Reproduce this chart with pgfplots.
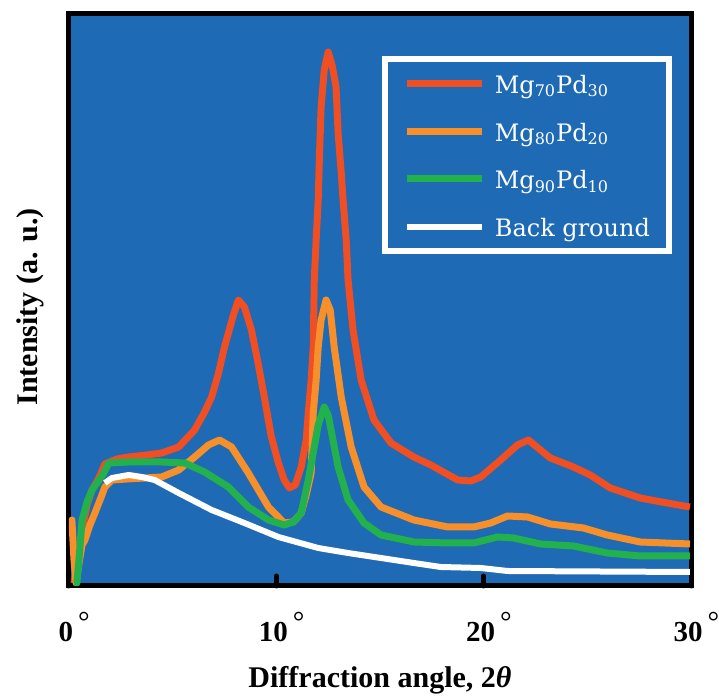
\documentclass[border=0pt]{standalone}
\usepackage{fontspec}
\setmainfont{Liberation Serif}
\newfontfamily\legfont{DejaVu Serif}
\usepackage{pgfplots}
\pgfplotsset{compat=1.18}
\definecolor{bgblue}{RGB}{30,106,180}
\definecolor{cred}{RGB}{240,78,35}
\definecolor{corange}{RGB}{247,143,42}
\definecolor{cgreen}{RGB}{34,177,76}
\newcommand\dg{\rlap{\hspace{2.5pt}\raisebox{5pt}{\mdseries °}}}

\begin{document}
\begin{tikzpicture}
\path[use as bounding box] (-34.5pt,-57pt) rectangle (325pt,293pt);
\begin{axis}[
  scale only axis, width=311pt, height=286pt,
  xmin=0, xmax=30, ymin=0, ymax=572,
  axis background/.style={fill=bgblue},
  axis line style={line width=2.5pt, black},
  xtick={0,10,20,30}, ytick=\empty,
  xticklabels={0\dg,10\dg,20\dg,30\dg},
  xtick pos=bottom, tick align=inside,
  major tick length=5pt,
  tick style={line width=2.5pt, line cap=round, black},
  xticklabel style={font=\bfseries\fontsize{14.5}{16}\selectfont, anchor=base, yshift=-28pt, xshift=-1.5pt},
  xlabel={Diffraction angle, 2\textit{θ}},
  xlabel style={font=\bfseries\fontsize{15}{17}\selectfont, at={(axis description cs:0.5,0)}, anchor=base, yshift=-51pt},
  ylabel={Intensity (a. u.)},
  ylabel style={font=\bfseries\fontsize{15}{17}\selectfont, at={(axis description cs:-0.039,0.488)}, anchor=south, inner sep=0pt, rotate=0},
  legend cell align=left,
  legend image code/.code={\draw[#1] (0pt,0pt) -- (37.5pt,0pt); \path (42pt,0pt);},
  legend style={at={(0.503,0.926)}, anchor=north west, draw=white, line width=3pt,
    fill=bgblue, text=white, font=\legfont\fontsize{12}{14}\selectfont,
    inner xsep=9.5pt, inner ysep=4.5pt, row sep=8.9pt,
    nodes={inner sep=0pt, text height=12.5pt, text depth=2.5pt}},
  every axis plot/.append style={line width=3.5pt, line join=round},
]
\addplot[cred] coordinates {
(0.24,3) (0.43,26) (0.63,56) (0.87,81) (1.11,96) (1.44,108) (1.73,122) (2.31,127)
(2.88,129) (3.75,131) (4.47,133) (5.29,139) (6.06,156) (6.54,174) (6.88,189)
(7.20,212) (7.50,239) (7.93,271) (8.17,286) (8.46,279) (8.80,256) (9.10,225) (9.42,189) (9.75,150) (10.10,123)
(10.38,106) (10.63,98) (10.91,101) (11.20,119) (11.44,146) (11.54,173) (11.68,206)
(11.78,239) (11.83,306) (11.92,346) (12.02,386) (12.07,423) (12.16,479) (12.31,516)
(12.50,534) (12.69,521) (12.88,499) (12.98,453) (13.13,413) (13.22,386) (13.37,346)
(13.46,306) (13.70,256) (14.09,206) (14.71,166) (15.53,143) (16.63,129) (17.45,121)
(18.75,106) (19.38,105) (19.86,109) (20.82,126) (21.63,141) (22.16,146) (22.74,136)
(23.22,128) (24.33,119) (25.14,111) (26.11,98) (27.55,88) (28.85,83) (29.95,79)
};
\addlegendentry{Mg\textsubscript{70}Pd\textsubscript{30}}
\addplot[corange] coordinates {
(0.05,61) (0.14,66) (0.24,26) (0.34,3) (0.43,16) (0.63,41) (0.77,46) (1.01,61)
(1.25,73) (1.59,91) (1.73,99) (2.07,106) (2.79,107) (3.65,108) (4.47,109) (5.29,116)
(6.06,129) (6.73,141) (7.26,146) (7.84,139) (8.65,113) (9.62,79) (10.38,63)
(10.82,64) (11.20,73) (11.44,91) (11.68,113) (11.78,173) (11.92,206) (12.02,239)
(12.16,266) (12.40,286) (12.60,276) (12.79,239) (13.13,189) (13.61,139) (14.23,99)
(15.05,79) (16.63,66) (18.27,59) (19.52,59) (20.34,63) (21.15,70) (22.12,69)
(23.22,62) (24.81,58) (25.96,51) (27.55,44) (29.95,42)
};
\addlegendentry{Mg\textsubscript{80}Pd\textsubscript{20}}
\addplot[cgreen] coordinates {
(0.24,3) (0.38,3) (0.48,26) (0.63,66) (0.87,84) (1.11,96) (1.39,104) (1.68,113)
(1.92,123) (2.88,124) (4.47,124) (5.58,123) (6.54,114) (7.69,99) (8.65,79)
(9.62,66) (10.38,61) (10.82,64) (11.20,73) (11.54,106) (11.83,139) (12.02,161)
(12.31,179) (12.50,171) (12.64,156) (12.98,119) (13.46,86) (14.23,63) (15.05,51)
(16.63,44) (18.27,43) (19.52,43) (20.67,49) (21.44,48) (22.74,42) (24.33,40)
(25.96,33) (27.55,30) (29.95,30)
};
\addlegendentry{Mg\textsubscript{90}Pd\textsubscript{10}}
\addplot[white, line width=3pt] coordinates {
(1.73,103) (2.07,108) (2.88,111) (3.51,109) (4.13,106) (5.29,93) (6.88,76)
(8.46,63) (10.10,49) (12.02,38) (13.46,33) (16.63,23) (17.93,19) (19.86,18)
(21.15,15) (29.95,14)
};
\addlegendentry{Back ground}
\end{axis}
\end{tikzpicture}
\end{document}
